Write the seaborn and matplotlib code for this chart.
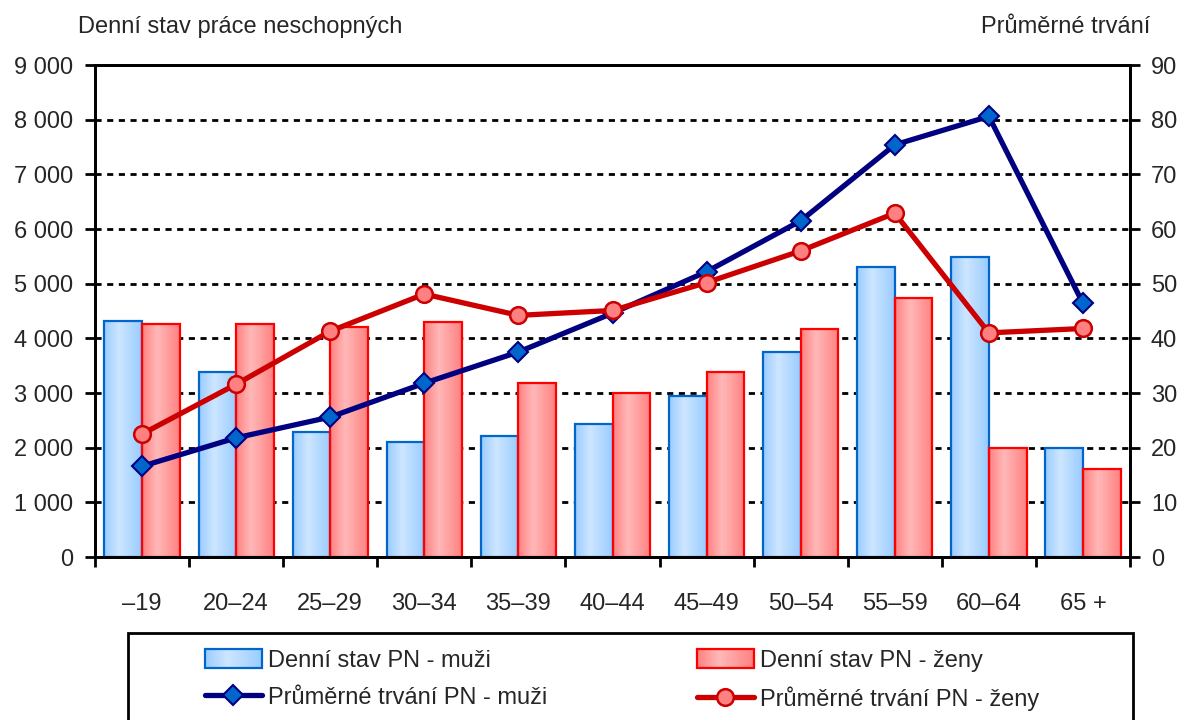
import numpy as np
import pandas as pd
import matplotlib
matplotlib.use("Agg")
import matplotlib.pyplot as plt
import seaborn as sns
from matplotlib.patches import Rectangle, Patch
from matplotlib.lines import Line2D
from matplotlib.legend_handler import HandlerBase
from matplotlib.colors import to_rgb

# ---------------- data ----------------
categories = ["–19", "20–24", "25–29", "30–34", "35–39", "40–44",
              "45–49", "50–54", "55–59", "60–64", "65 +"]
denni_muzi = [4310, 3380, 2290, 2100, 2210, 2440, 2940, 3750, 5310, 5490, 1990]
denni_zeny = [4260, 4260, 4210, 4300, 3180, 3000, 3380, 4170, 4740, 1990, 1610]
prumer_muzi = [16.6, 21.8, 25.6, 31.8, 37.5, 44.6, 52.2, 61.5, 75.4, 80.6, 46.4]
prumer_zeny = [22.5, 31.6, 41.3, 48.1, 44.2, 45.1, 50.2, 56.0, 62.9, 41.0, 41.8]
left_ticks = [0, 1000, 2000, 3000, 4000, 5000, 6000, 7000, 8000, 9000]
left_tick_labels = ["0", "1 000", "2 000", "3 000", "4 000", "5 000",
                    "6 000", "7 000", "8 000", "9 000"]
right_ticks = [0, 10, 20, 30, 40, 50, 60, 70, 80, 90]
series_names = ["Denní stav PN - muži", "Denní stav PN - ženy",
                "Průměrné trvání PN - muži", "Průměrné trvání PN - ženy"]
left_title = "Denní stav práce neschopných"
right_title = "Průměrné trvání"

# ---------------- style ----------------
sns.set_style("white")
plt.rcParams["font.family"] = ["Liberation Sans", "DejaVu Sans"]
FS = 17

BLUE_DARK, BLUE_LIGHT, BLUE_EDGE = "#99CCFF", "#CDE6FF", "#0066CC"
RED_DARK, RED_LIGHT, RED_EDGE = "#FF8080", "#FFB8B8", "#FF0000"
NAVY = "#000080"
LRED = "#CC0000"


def grad_profile(n=64):
    t = (np.arange(n) + 0.5) / n
    peak = 0.4
    w = np.where(t < peak, t / peak, 1 - (t - peak) / (1 - peak))
    return np.clip(w, 0, 1)


def grad_colors(dark, light, n=64):
    d = np.array(to_rgb(dark))
    l = np.array(to_rgb(light))
    w = grad_profile(n)[:, None]
    return d * (1 - w) + l * w


fig = plt.figure(figsize=(11.85, 7.2), dpi=100)
ax1 = fig.add_axes([95 / 1185, 1 - 557 / 720, (1130 - 95) / 1185, (557 - 65) / 720])

df = pd.DataFrame({
    "vek": categories * 2,
    "hodnota": denni_muzi + denni_zeny,
    "serie": [series_names[0]] * len(categories) + [series_names[1]] * len(categories),
})
sns.barplot(data=df, x="vek", y="hodnota", hue="serie", order=categories,
            hue_order=series_names[:2], palette=[BLUE_LIGHT, RED_LIGHT],
            ax=ax1, legend=False, width=0.8, saturation=1)

for cont, dark, light, edge in zip(ax1.containers,
                                   [BLUE_DARK, RED_DARK],
                                   [BLUE_LIGHT, RED_LIGHT],
                                   [BLUE_EDGE, RED_EDGE]):
    cols = grad_colors(dark, light)[None, :, :]
    for p in cont.patches:
        x, y = p.get_x(), p.get_y()
        w, h = p.get_width(), p.get_height()
        im = ax1.imshow(cols, extent=[x, x + w, y, y + h], aspect="auto",
                        origin="lower", zorder=0.9, interpolation="bilinear")
        im.set_clip_path(p)
        p.set_facecolor("none")
        p.set_edgecolor(edge)
        p.set_linewidth(1.6)
        p.set_zorder(1)

ax1.set_xlim(-0.5, len(categories) - 0.5)
ax1.set_ylim(0, 9000)
ax1.set_yticks(left_ticks)
ax1.set_yticklabels(left_tick_labels)
ax1.set_xticks(range(len(categories)))
ax1.set_xticklabels(categories)
ax1.set_xticks(np.arange(-0.5, len(categories), 1.0), minor=True)
ax1.set_xlabel("")
ax1.set_ylabel("")
ax1.tick_params(axis="x", which="major", length=0, pad=26, labelsize=FS)
ax1.tick_params(axis="x", which="minor", length=7, width=2, direction="out",
                color="black", bottom=True)
ax1.tick_params(axis="y", length=7, width=2, direction="out", pad=9,
                labelsize=FS, color="black", left=True)
ax1.set_axisbelow(True)
for yv in left_ticks[1:-1]:
    ax1.axhline(yv, color="black", lw=2.0, ls=(0, (2.2, 2.0)), zorder=0.5)
for s in ax1.spines.values():
    s.set_visible(True)
    s.set_color("black")
    s.set_linewidth(2)

ax2 = ax1.twinx()
pos = np.arange(len(categories))
sns.lineplot(x=pos, y=prumer_muzi, ax=ax2, color=NAVY, lw=3.8, marker="D",
             markersize=10.5, markerfacecolor="#0066CC", markeredgecolor=NAVY,
             markeredgewidth=1.5, zorder=3)
sns.lineplot(x=pos, y=prumer_zeny, ax=ax2, color=LRED, lw=3.8, marker="o",
             markersize=12, markerfacecolor="#FF8080", markeredgecolor=LRED,
             markeredgewidth=1.8, zorder=4)
ax2.set_ylim(0, 90)
ax2.set_xlim(-0.5, len(categories) - 0.5)
ax2.set_yticks(right_ticks)
ax2.set_yticklabels([str(v) for v in right_ticks])
ax2.tick_params(axis="y", length=7, width=2, direction="out", pad=8,
                labelsize=FS, color="black", right=True)
ax2.grid(False)
for s in ax2.spines.values():
    s.set_color("black")
    s.set_linewidth(2)

fig.text(78 / 1185, 1 - 27 / 720, left_title, fontsize=FS, ha="left", va="center")
fig.text(1150 / 1185, 1 - 27 / 720, right_title, fontsize=FS, ha="right", va="center")


# ---------------- legend ----------------
class GradHandler(HandlerBase):
    def __init__(self, dark, light, edge):
        super().__init__()
        self.dark, self.light, self.edge = dark, light, edge

    def create_artists(self, legend, orig_handle, xdescent, ydescent,
                       width, height, fontsize, trans):
        n = 30
        cols = grad_colors(self.dark, self.light, n)
        arts = []
        for i in range(n):
            arts.append(Rectangle((-xdescent + i * width / n, -ydescent),
                                  width / n * 1.05, height, facecolor=cols[i],
                                  edgecolor="none", transform=trans))
        arts.append(Rectangle((-xdescent, -ydescent), width, height,
                              facecolor="none", edgecolor=self.edge, lw=1.6,
                              transform=trans))
        return arts


hb = Patch()
hr = Patch()
lm = Line2D([], [], color=NAVY, lw=3.8, marker="D", markersize=10.5,
            markerfacecolor="#0066CC", markeredgecolor=NAVY, markeredgewidth=1.5)
lz = Line2D([], [], color=LRED, lw=3.8, marker="o", markersize=12,
            markerfacecolor="#FF8080", markeredgecolor=LRED, markeredgewidth=1.8)
hmap = {hb: GradHandler(BLUE_DARK, BLUE_LIGHT, BLUE_EDGE),
        hr: GradHandler(RED_DARK, RED_LIGHT, RED_EDGE)}

leg_kw = dict(loc="upper left", frameon=False, fontsize=FS, borderpad=0,
              borderaxespad=0, handlelength=2.4, handleheight=0.85,
              handletextpad=0.25, labelspacing=0.62)
leg1 = fig.legend([hb, lm], [series_names[0], series_names[2]],
                  bbox_to_anchor=(205 / 1185, 1 - 649 / 720), handler_map=hmap, **leg_kw)
leg2 = fig.legend([hr, lz], [series_names[1], series_names[3]],
                  bbox_to_anchor=(697 / 1185, 1 - 649 / 720), handler_map=hmap, **leg_kw)

fig.patches.append(Rectangle((128 / 1185, -0.1), (1133 - 128) / 1185,
                             0.1 + (720 - 633) / 720, transform=fig.transFigure,
                             facecolor="none", edgecolor="black", lw=2))

fig.savefig("out.png", dpi=100)
